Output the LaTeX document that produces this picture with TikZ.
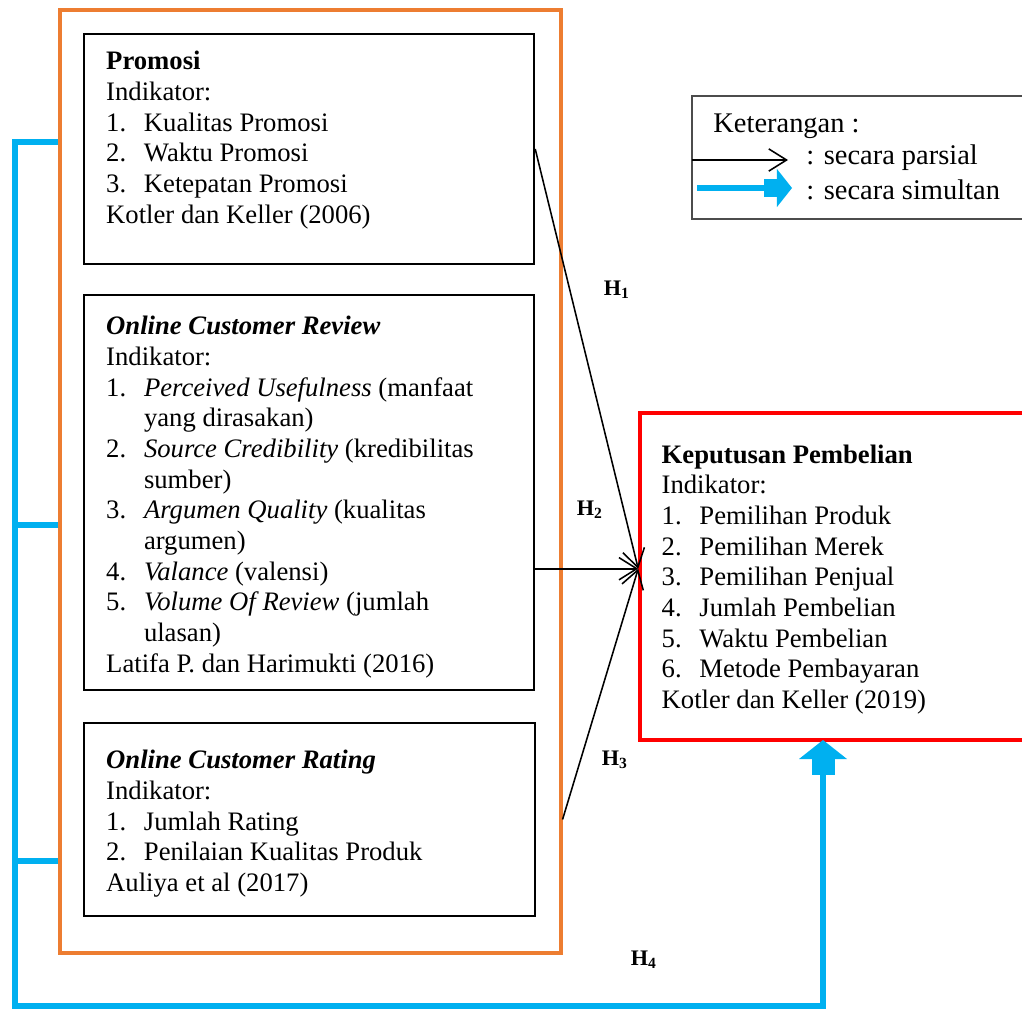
\documentclass[tikz,border=0pt]{standalone}
\usepackage{fontspec}
\setmainfont{Liberation Serif}
\usetikzlibrary{arrows.meta,fit}
\definecolor{bingkai}{RGB}{237,125,49}
\definecolor{biru}{RGB}{0,176,240}
\newcommand{\butir}[2]{\makebox[17pt][l]{#1}#2}
\newcommand{\lanjut}{\hspace*{17pt}}

\begin{document}
\begin{tikzpicture}[x=0.45pt,y=-0.45pt,
    kotak/.style={draw,line width=1.1pt,inner sep=0pt},
    teks/.style={anchor=north west,inner sep=0pt,align=left,font=\fontsize{12pt}{13.8pt}\selectfont},
    satu/.style={anchor=base west,inner sep=0pt,font=\fontsize{12.8pt}{14.5pt}\selectfont},
    hlabel/.style={inner sep=0pt,font=\fontsize{10pt}{12pt}\selectfont\bfseries},
    parsial/.style={line width=0.7pt,-{Straight Barb[length=8pt,width=10pt]}},
    simultan/.style={biru,line width=2.4pt},
    kepala/.pic={\fill[biru] (0,0) -- (-19,-24) -- (-19,24) -- cycle;
                 \fill[biru] (-18,-11.5) rectangle (-35,11.5);}]
    \useasboundingbox (0,0) rectangle (1022,1009);

    \node[kotak,draw=bingkai,line width=1.4pt,fit={(60,10) (561,953)}] (frame) {};
    \node[kotak,fit={(84,34) (534,264)}] (promosi) {};
    \node[kotak,fit={(84,295) (534,690)}] (review) {};
    \node[kotak,fit={(84,723) (535,916)}] (rating) {};
    \node[kotak,draw=red,line width=1.6pt,fit={(640,413) (1040,740)}] (kp) {};
    \node[kotak,draw=black!70,line width=0.5pt,fit={(692,96) (1040,219)}] (ket) {};

    \node[teks] (tpromosi) at ([shift={(23,18)}]promosi.north west) {\textbf{Promosi}\\
        Indikator:\\
        \butir{1.}{Kualitas Promosi}\\
        \butir{2.}{Waktu Promosi}\\
        \butir{3.}{Ketepatan Promosi}\\
        Kotler dan Keller (2006)};
    \node[teks] (treview) at ([shift={(23,22)}]review.north west) {\textbf{\textit{Online Customer Review}}\\
        Indikator:\\
        \butir{1.}{\textit{Perceived Usefulness} (manfaat}\\
        \lanjut yang dirasakan)\\
        \butir{2.}{\textit{Source Credibility} (kredibilitas}\\
        \lanjut sumber)\\
        \butir{3.}{\textit{Argumen Quality} (kualitas}\\
        \lanjut argumen)\\
        \butir{4.}{\textit{Valance} (valensi)}\\
        \butir{5.}{\textit{Volume Of Review} (jumlah}\\
        \lanjut ulasan)\\
        Latifa P. dan Harimukti (2016)};
    \node[teks] (trating) at ([shift={(23,28)}]rating.north west) {\textbf{\textit{Online Customer Rating}}\\
        Indikator:\\
        \butir{1.}{Jumlah Rating}\\
        \butir{2.}{Penilaian Kualitas Produk}\\
        Auliya et al (2017)};
    \node[teks] (tkp) at ([shift={(23,33)}]kp.north west) {\textbf{Keputusan Pembelian}\\
        Indikator:\\
        \butir{1.}{Pemilihan Produk}\\
        \butir{2.}{Pemilihan Merek}\\
        \butir{3.}{Pemilihan Penjual}\\
        \butir{4.}{Jumlah Pembelian}\\
        \butir{5.}{Waktu Pembelian}\\
        \butir{6.}{Metode Pembayaran}\\
        Kotler dan Keller (2019)};

    % keterangan
    \node[satu] (tket) at (713,133) {Keterangan :};
    \node[satu] (tparsial) at (806,165) {: secara parsial};
    \node[satu] (tsimultan) at (806,200) {: secara simultan};
    \coordinate (pa) at (692,160);
    \coordinate (pb) at (788,160);
    \coordinate (sa) at (697,188);
    \coordinate (sb) at (792,188);
    \draw[parsial] (pa) -- (pb);
    \draw[simultan,shorten >=10pt] (sa) -- (sb);
    \pic[scale=0.8] at (sb) {kepala};

    % hipotesis parsial
    \coordinate[yshift=3.5pt] (masuk) at (kp.west);
    \draw[parsial] (promosi.east) -- (masuk);
    \draw[parsial] (review.east |- masuk) -- (masuk);
    \draw[parsial] (rating.east -| frame.east) -- (masuk);
    \node[hlabel] (h1) at (617,290) {H\textsubscript{1}};
    \node[hlabel] (h2) at (590,510) {H\textsubscript{2}};
    \node[hlabel] (h3) at (615,760) {H\textsubscript{3}};
    \node[hlabel] (h4) at (644,960) {H\textsubscript{4}};

    % hipotesis simultan
    \coordinate (s1) at (frame.west |- 0,142);
    \coordinate (s2) at (frame.west |- 0,525);
    \coordinate (s3) at (frame.west |- 0,861);
    \coordinate (bawah) at (15,1006);
    \coordinate (naik) at (823,740);
    \draw[simultan,shorten >=12pt] (s1) -| (bawah) -| (naik);
    \draw[simultan] (s2) -- (s2 -| bawah);
    \draw[simultan] (s3) -- (s3 -| bawah);
    \pic[rotate=90] at (naik) {kepala};
\end{tikzpicture}
\end{document}
